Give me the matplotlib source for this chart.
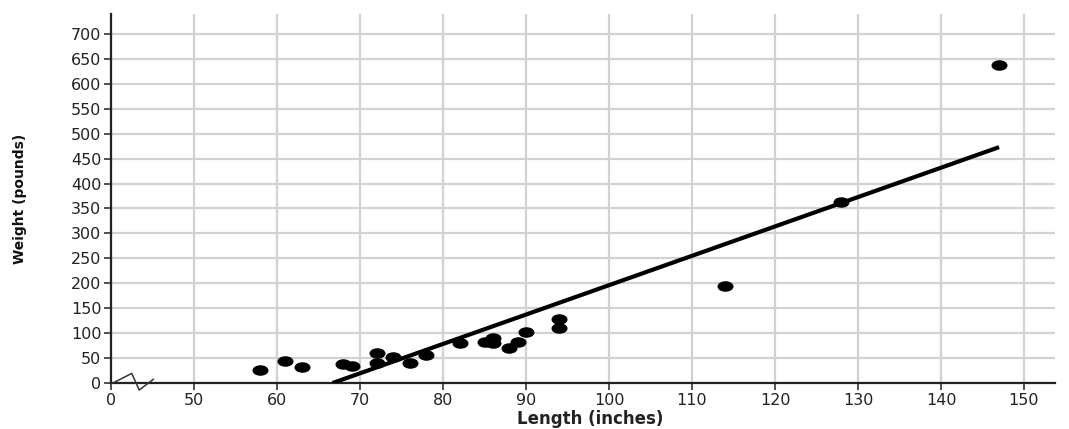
import numpy as np
import matplotlib
matplotlib.use("Agg")
import matplotlib.pyplot as plt
from matplotlib.path import Path
from matplotlib.transforms import Affine2D, blended_transform_factory

# data
length = [58, 61, 63, 68, 69, 72, 72, 74, 76, 78, 82, 85, 86, 86, 88, 89, 90, 94, 94, 114, 128, 147]
weight = [27, 44, 32, 38, 34, 60, 40, 53, 41, 57, 81, 83, 90, 80, 70, 83, 103, 128, 110, 195, 363, 638]

fit_x = [66.7, 147]
fit_y = [0, 473]

x_ticks = [0, 50, 60, 70, 80, 90, 100, 110, 120, 130, 140, 150]
y_ticks = list(range(0, 701, 50))

def to_pos(v):
    # broken axis: 0 sits one grid step left of 50
    v = np.asarray(v, dtype=float)
    return np.where(v < 50, v / 50, (v - 40) / 10)

fig = plt.figure(figsize=(10.69, 4.29), dpi=100)
ax = fig.add_axes([111 / 1069, 46 / 429, 944 / 1069, 369 / 429])

ellipse = Path.unit_circle().transformed(Affine2D().scale(1.6, 1))

ax.plot(to_pos(fit_x), fit_y, color="black", lw=3, solid_capstyle="butt", zorder=3)
ax.plot(to_pos(length), weight, linestyle="none", marker=ellipse, markersize=10.5,
        color="black", zorder=4)

ax.set_xlim(0, 944 / 83)
ax.set_ylim(0, 740)
ax.set_xticks(to_pos(x_ticks))
ax.set_xticklabels([str(t) for t in x_ticks])
ax.set_yticks(y_ticks)

ax.grid(True, color="#d2d2d2", lw=1.6, zorder=0)
ax.set_axisbelow(True)
for s in ["top", "right"]:
    ax.spines[s].set_visible(False)
for s in ["left", "bottom"]:
    ax.spines[s].set_linewidth(1.6)
    ax.spines[s].set_color("#222222")

ax.tick_params(axis="both", direction="out", length=5, width=1.2, color="#333333",
               labelsize=11.5, labelcolor="#222222", pad=2)

ax.set_xlabel("Length (inches)", fontsize=12, fontweight="bold", color="#222222")
ax.xaxis.set_label_coords(0.508, -0.074)
ax.set_ylabel("Weight (pounds)", fontsize=10, fontweight="bold", color="#111111")
ax.yaxis.set_label_coords(-0.089, 0.5)

# zigzag break mark on the x axis
tr = blended_transform_factory(ax.transData, ax.transAxes)
ax.plot([0.024, 0.25, 0.34, 0.51], [0.0, 0.026, -0.019, 0.01], color="#333333",
        lw=1.1, transform=tr, clip_on=False, zorder=5)

fig.savefig("out.png", dpi=100)
